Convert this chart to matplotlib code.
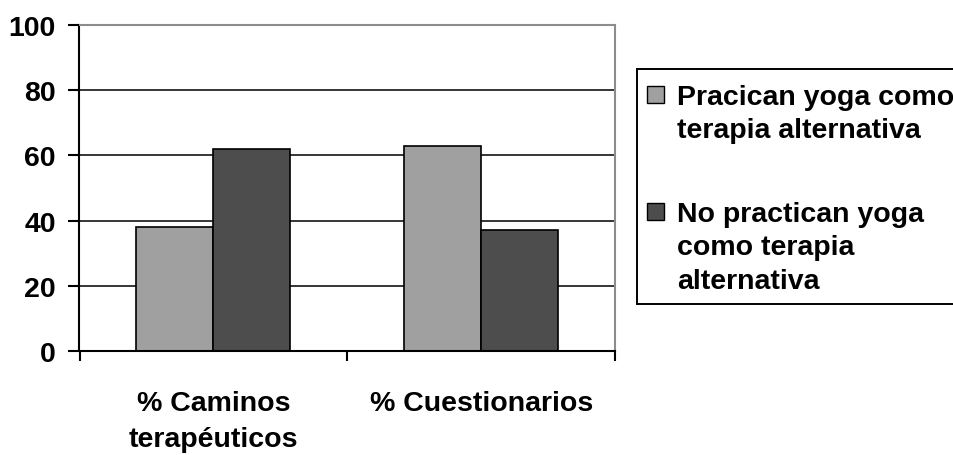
import numpy as np
import matplotlib
matplotlib.use("Agg")
import matplotlib.pyplot as plt
from matplotlib.patches import Rectangle

categories = ["% Caminos\nterapéuticos", "% Cuestionarios"]
series_names = ["Pracican yoga como\nterapia alternativa",
                "No practican yoga\ncomo terapia\nalternativa"]
practican = [38, 63]
no_practican = [62, 37]
yticks = [0, 20, 40, 60, 80, 100]
colors = ["#a0a0a0", "#4d4d4d"]

plt.rcParams["font.family"] = ["Liberation Sans", "DejaVu Sans"]
plt.rcParams["font.weight"] = "bold"
fs = 20.5

W, H = 954, 456
fig = plt.figure(figsize=(W/100, H/100), dpi=100)
ax = fig.add_axes([79.5/W, 1 - 352/H, (615 - 79.5)/W, (352 - 26)/H])

x = np.arange(len(categories))
w = 0.288
for i, vals in enumerate([practican, no_practican]):
    ax.bar(x + (i - 0.5)*w, vals, w, color=colors[i], edgecolor="black",
           linewidth=1.2, label=series_names[i], zorder=3)

ax.set_xlim(-0.5, 1.5)
ax.set_ylim(0, 100)
ax.set_yticks(yticks)
ax.set_yticklabels([str(v) for v in yticks], fontsize=fs, fontweight="bold")
ax.tick_params(axis="y", direction="out", length=8, width=1.5, pad=9)

# category boundaries as major ticks, names on minor ticks
ax.set_xticks([-0.5, 0.5, 1.5])
ax.set_xticklabels([])
ax.tick_params(axis="x", which="major", direction="out", length=7, width=1.5)
ax.set_xticks(x, minor=True)
ax.set_xticklabels(categories, minor=True, fontsize=fs, fontweight="bold",
                   linespacing=1.5)
ax.tick_params(axis="x", which="minor", length=0, pad=28)

ax.yaxis.grid(True, color="black", linewidth=1.1, zorder=0)
ax.set_axisbelow(True)
ax.yaxis.get_gridlines()[-1].set_visible(False)

for s in ("left", "bottom"):
    ax.spines[s].set_color("black")
    ax.spines[s].set_linewidth(1.5)
for s in ("top", "right"):
    ax.spines[s].set_color("#8c8c8c")
    ax.spines[s].set_linewidth(1.5)
ax.spines["bottom"].set_zorder(4)

# legend box, square markers next to the first line of each label
def fx(px):
    return px / W

def fy(py):
    return 1 - py / H

fig.patches.append(Rectangle((fx(637), fy(305)), fx(330), (305 - 70)/H,
                             transform=fig.transFigure, facecolor="white",
                             edgecolor="black", linewidth=1.4))
first_baseline = [105, 221.7]
line_step = 33.5
for i, name in enumerate(series_names):
    b = first_baseline[i]
    fig.patches.append(Rectangle((fx(647), fy(b - 1)), 17/W, 17/H,
                                 transform=fig.transFigure, facecolor=colors[i],
                                 edgecolor="black", linewidth=1.0))
    for k, line in enumerate(name.split("\n")):
        fig.text(fx(677), fy(b + k*line_step), line, fontsize=fs,
                 fontweight="bold", ha="left", va="baseline")

fig.savefig("out.png", dpi=100)
